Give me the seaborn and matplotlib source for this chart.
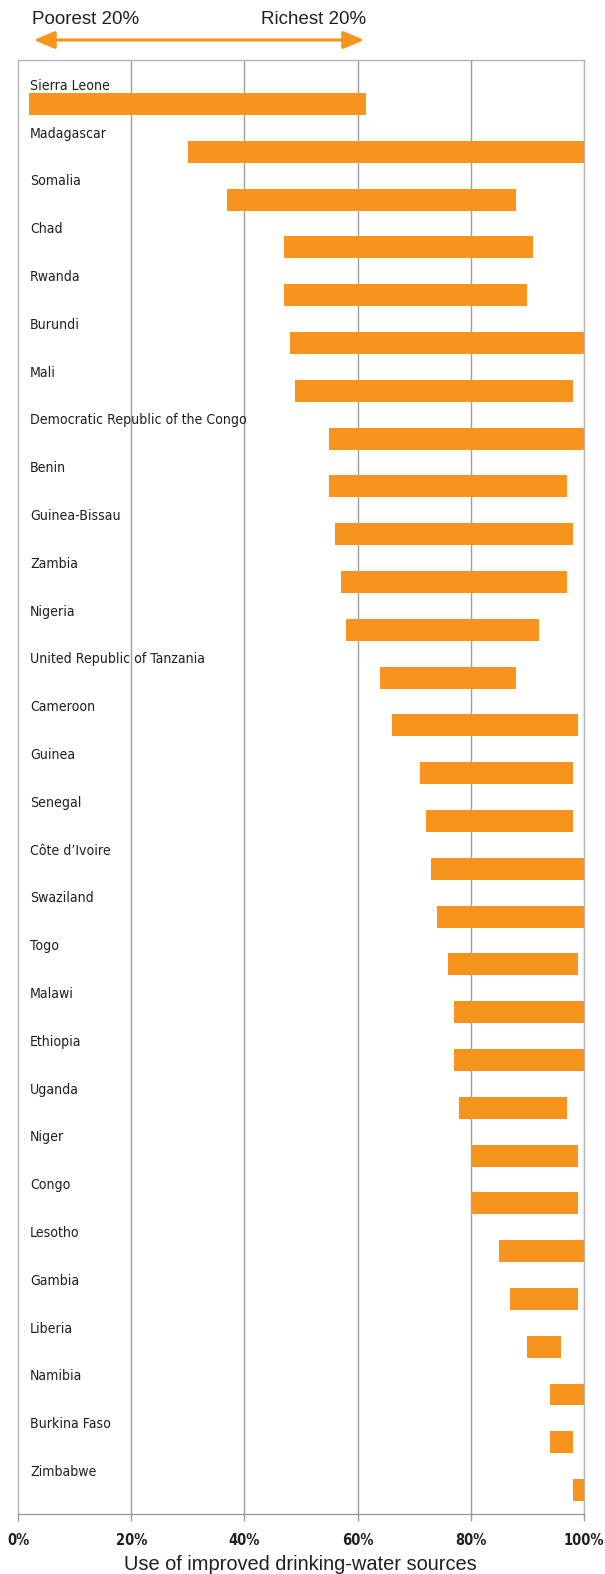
import matplotlib
matplotlib.use("Agg")
import matplotlib.pyplot as plt
from matplotlib.patches import FancyArrowPatch
import seaborn as sns
import pandas as pd
import numpy as np

countries = ["Sierra Leone", "Madagascar", "Somalia", "Chad", "Rwanda", "Burundi", "Mali",
             "Democratic Republic of the Congo", "Benin", "Guinea-Bissau", "Zambia", "Nigeria",
             "United Republic of Tanzania", "Cameroon", "Guinea", "Senegal", "Côte d’Ivoire",
             "Swaziland", "Togo", "Malawi", "Ethiopia", "Uganda", "Niger", "Congo", "Lesotho",
             "Gambia", "Liberia", "Namibia", "Burkina Faso", "Zimbabwe"]
poorest = [2, 30, 37, 47, 47, 48, 49, 55, 55, 56, 57, 58, 64, 66, 71, 72, 73, 74, 76, 77, 77,
           78, 80, 80, 85, 87, 90, 94, 94, 98]
richest = [61.4, 100, 88, 91, 90, 100, 98, 100, 97, 98, 97, 92, 88, 99, 98, 98, 100, 100, 99,
           100, 100, 97, 99, 99, 100, 99, 96, 100, 98, 100]
xticks = [0, 20, 40, 60, 80, 100]
xtick_labels = ["0%", "20%", "40%", "60%", "80%", "100%"]

ORANGE = "#F7941D"
GRID = "#9d9d9d"
TEXT = "#231f20"

sns.set_style("white")
plt.rcParams['font.family'] = ['Liberation Sans', 'DejaVu Sans']

W, H = 605, 1574
fig = plt.figure(figsize=(W / 100, H / 100), dpi=100)
ax = fig.add_axes([18 / W, 1 - 1514 / H, 566 / W, 1454 / H])

df = pd.DataFrame({"country": countries,
                   "span": np.array(richest) - np.array(poorest)})
sns.barplot(data=df, x="span", y="country", left=poorest, color=ORANGE, saturation=1,
            width=0.46, linewidth=0, errorbar=None, ax=ax, zorder=3)

ax.set_xlim(0, 100)
ax.set_ylim(29.5, -0.92)
ax.set_yticks([])
ax.set_ylabel("")
ax.set_xlabel("")
ax.set_xticks(xticks)
ax.set_xticklabels(xtick_labels, fontfamily='DejaVu Sans', fontstretch='condensed',
                   fontweight='bold', fontsize=10.5, color=TEXT)
ax.tick_params(axis='x', length=5, width=1, color=GRID, pad=9, bottom=True)
for x in xticks[1:]:
    ax.axvline(x, color=GRID if x < 100 else "#c4c4c4", lw=1, zorder=1)
for s in ax.spines.values():
    s.set_color("#b5b5b5")
    s.set_linewidth(1)
ax.spines['bottom'].set_color(GRID)

for i, c in enumerate(countries):
    ax.text(2.1, i - 0.38, c, ha='left', va='center', fontsize=10.1, color=TEXT,
            fontfamily='DejaVu Sans', fontstretch='condensed', zorder=4)

fig.text(300 / W, 1 - 1565 / H, "Use of improved drinking-water sources", ha='center',
         va='center', fontsize=14.4, color=TEXT)

fig.text(32 / W, 1 - 20 / H, "Poorest 20%", ha='left', va='center', fontsize=13.5, color=TEXT)
fig.text(366 / W, 1 - 20 / H, "Richest 20%", ha='right', va='center', fontsize=13.5, color=TEXT)
arrow = FancyArrowPatch((31 / W, 1 - 40 / H), (367 / W, 1 - 40 / H), transform=fig.transFigure,
                        arrowstyle='<|-|>,head_length=0.9,head_width=0.38', mutation_scale=14,
                        lw=2.2, color=ORANGE)
fig.add_artist(arrow)

fig.savefig("out.png", dpi=100)
